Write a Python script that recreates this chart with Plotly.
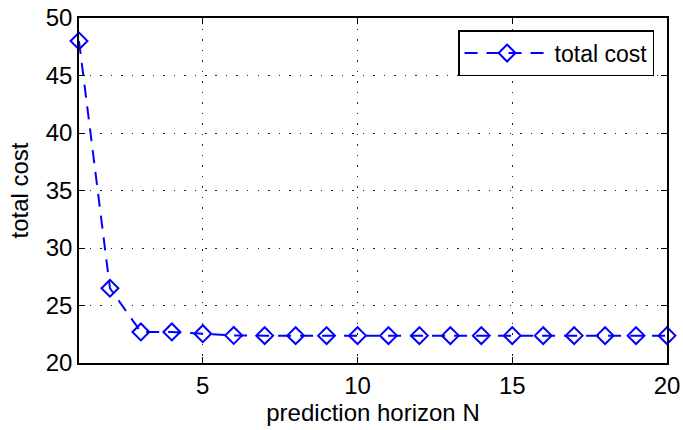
import plotly.graph_objects as go

horizon = list(range(1, 21))
total_cost = [48.0, 26.5, 22.7, 22.7, 22.55, 22.4, 22.38, 22.38, 22.38, 22.38,
              22.38, 22.38, 22.38, 22.38, 22.38, 22.38, 22.38, 22.38, 22.38, 22.38]
x_ticks = [5, 10, 15, 20]
y_ticks = [20, 25, 30, 35, 40, 45, 50]

FONT = "Liberation Sans, Arial, sans-serif"

fig = go.Figure()
fig.add_trace(go.Scatter(
    x=horizon, y=total_cost, mode="lines+markers", name="total cost",
    line=dict(color="#0000ff", width=2, dash="13px,9px"),
    marker=dict(symbol="diamond-open", size=13, color="#0000ff", line=dict(width=2, color="#0000ff")),
    cliponaxis=False,
))

axis_common = dict(
    showline=True, linecolor="black", linewidth=1.5, mirror="all",
    ticks="inside", ticklen=6, tickcolor="black", tickwidth=1,
    showgrid=True, gridcolor="#222222", gridwidth=1, griddash="1.5px,9px",
    zeroline=False, automargin=False,
    tickfont=dict(family=FONT, size=24, color="black"),
)

fig.update_layout(
    width=683, height=430,
    margin=dict(l=79, r=16, t=18, b=67),
    paper_bgcolor="white", plot_bgcolor="white",
    font=dict(family=FONT, size=24, color="black"),
    xaxis=dict(range=[1, 20], tickvals=x_ticks,
               title=dict(text="prediction horizon N", standoff=4, font=dict(size=24)), **axis_common),
    yaxis=dict(range=[20, 50], tickvals=y_ticks,
               title=dict(text="total cost", standoff=10, font=dict(size=24)), **axis_common),
    legend=dict(x=0.978, y=0.965, xanchor="right", yanchor="top",
                bordercolor="black", borderwidth=1.5, bgcolor="white",
                itemwidth=85, font=dict(size=23)),
    showlegend=True,
)

fig.write_html("out.html")
